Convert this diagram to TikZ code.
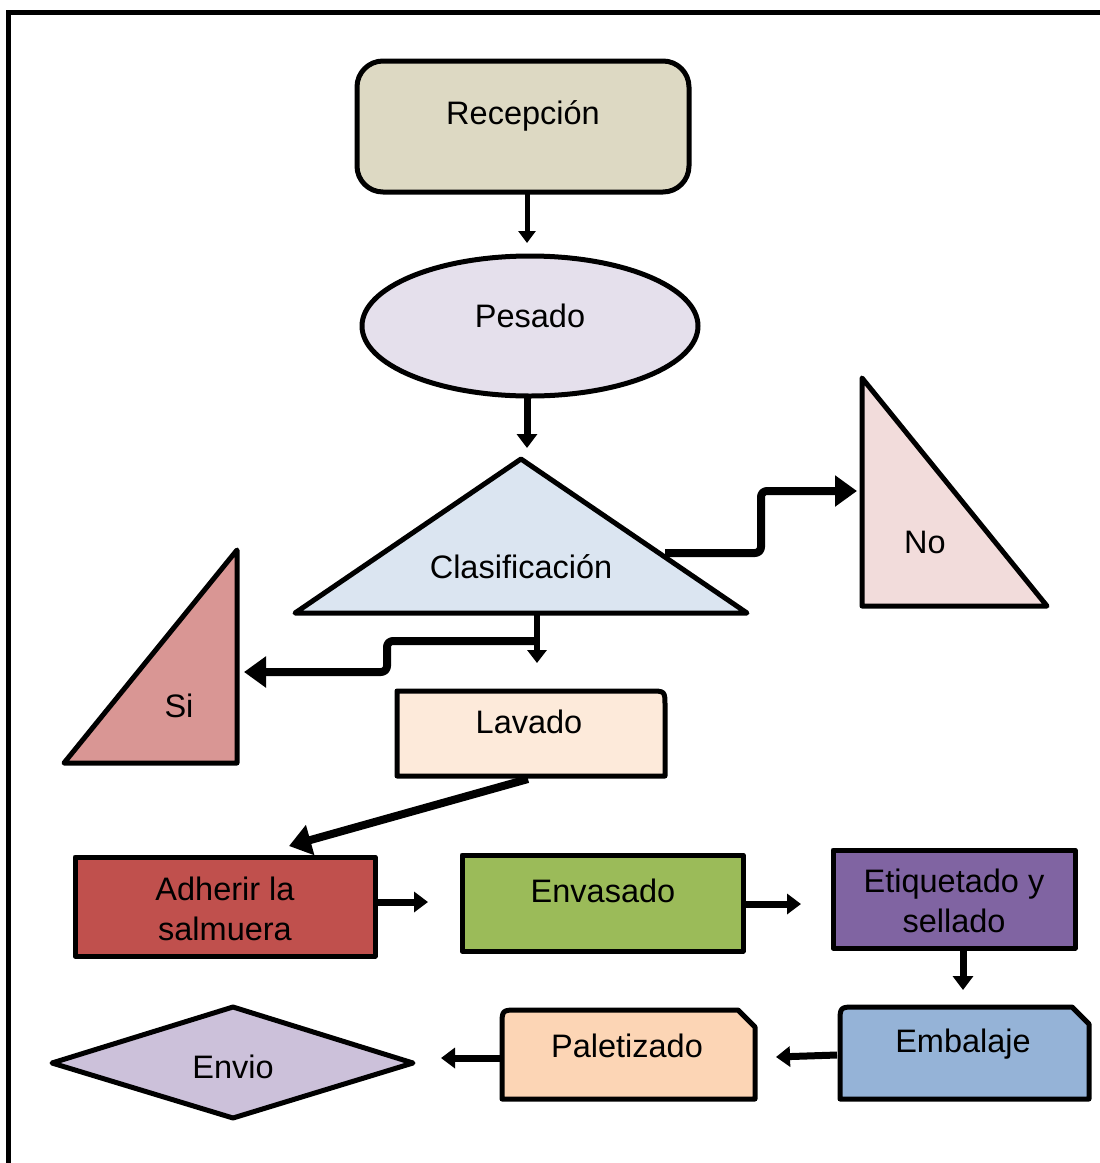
\documentclass[tikz,border=0pt]{standalone}
\usepackage{fontspec}
\setmainfont{Liberation Sans}
\usetikzlibrary{arrows.meta,shapes.geometric}

\definecolor{cRecep}{HTML}{DDD9C3}
\definecolor{cPesado}{HTML}{E5E0EC}
\definecolor{cClasif}{HTML}{DBE5F1}
\definecolor{cNo}{HTML}{F2DCDB}
\definecolor{cSi}{HTML}{D99694}
\definecolor{cLavado}{HTML}{FDEADA}
\definecolor{cAdherir}{HTML}{C0504D}
\definecolor{cEnvasado}{HTML}{9BBB59}
\definecolor{cEtiq}{HTML}{8064A2}
\definecolor{cEmbalaje}{HTML}{95B3D7}
\definecolor{cPalet}{HTML}{FCD5B5}
\definecolor{cEnvio}{HTML}{CCC1DA}

\tikzset{
  shapeline/.style={draw=black, line width=5pt, line join=round},
  label/.style={font=\fontsize{32.5}{39}\selectfont, align=center, inner sep=0pt},
  twoline/.style={font=\fontsize{32.5}{40}\selectfont},
  flowthin/.style={line width=5pt, -{Triangle[length=12pt,width=17pt]}},
  flowmid/.style={line width=7pt, -{Triangle[length=14pt,width=20pt]}},
  flowthick/.style={line width=8pt, rounded corners=6pt, line join=round,
                    -{Triangle[length=22pt,width=30pt]}},
}

\begin{document}
\begin{tikzpicture}[x=1pt,y=-1pt]
\useasboundingbox (0,0) rectangle (1100,1163);
\fill[white] (0,0) rectangle (1100,1163);

% outer frame (open to the right and bottom)
\draw[line width=5pt] (1110,12) -- (8,12) -- (8,1175);

% Recepcion
\draw[shapeline, fill=cRecep, rounded corners=26pt] (357,61) rectangle (689,192);
\node[label] (recep) at (523,116) {Recepción};
\coordinate (recepS) at (527,192);

% Pesado
\draw[shapeline, fill=cPesado] (530,326) ellipse [x radius=168, y radius=70];
\node[label] (pesado) at (530,316) {Pesado};
\coordinate (pesadoN) at (527,243);
\coordinate (pesadoS) at (527,396);

% Clasificacion
\draw[shapeline, fill=cClasif] (521,459) -- (747,613) -- (295,613) -- cycle;
\node[label] (clasif) at (521,567) {Clasificación};
\coordinate (clasifN) at (527,448);
\coordinate (clasifR) at (665,553);
\coordinate (clasifB) at (537,613);
\coordinate (clasifSplit) at (537,641);

% No
\draw[shapeline, fill=cNo] (862,378) -- (1047,606) -- (862,606) -- cycle;
\node[label] (no) at (925,542) {No};
\coordinate (noL) at (857,491);

% Si
\draw[shapeline, fill=cSi] (237,550) -- (237,763) -- (64,763) -- cycle;
\node[label] (si) at (179,706) {Si};
\coordinate (siR) at (244,672);

% Lavado (one rounded corner)
\draw[shapeline, fill=cLavado] (397,776) -- (397,691) -- (650,691)
  .. controls (665,691) .. (665,706) -- (665,776) -- cycle;
\node[label] (lavado) at (529,722) {Lavado};
\coordinate (lavadoN) at (537,663);
\coordinate (lavadoS) at (528,779);

% Adherir la salmuera
\draw[shapeline, fill=cAdherir] (75,857) rectangle (375,956);
\node[label, twoline] (adherir) at (225,909) {Adherir la\\salmuera};
\coordinate (adherirN) at (289,846);
\coordinate (adherirR) at (375,902);

% Envasado
\draw[shapeline, fill=cEnvasado] (462,855) rectangle (743,951);
\node[label] (envasado) at (603,891) {Envasado};
\coordinate (envasadoL) at (428,902);
\coordinate (envasadoR) at (743,904);

% Etiquetado y sellado
\draw[shapeline, fill=cEtiq] (833,850) rectangle (1075,948);
\node[label, twoline] (etiq) at (954,901) {Etiquetado y\\sellado};
\coordinate (etiqL) at (801,904);
\coordinate (etiqS) at (963,948);

% Embalaje (rounded top-left, clipped top-right)
\draw[shapeline, fill=cEmbalaje] (840,1099) -- (840,1023)
  .. controls (840,1007) .. (856,1007) -- (1072,1007) -- (1089,1024) -- (1089,1099) -- cycle;
\node[label] (embalaje) at (963,1044) {Embalaje};
\coordinate (embalajeN) at (963,990);
\coordinate (embalajeL) at (837,1055);

% Paletizado (rounded top-left, clipped top-right)
\draw[shapeline, fill=cPalet] (502,1099) -- (502,1026)
  .. controls (502,1010) .. (518,1010) -- (738,1010) -- (755,1027) -- (755,1099) -- cycle;
\node[label] (palet) at (627,1046) {Paletizado};
\coordinate (paletR) at (776,1057);
\coordinate (paletL) at (502,1058);

% Envio
\draw[shapeline, fill=cEnvio] (52,1063) -- (233,1007) -- (413,1063) -- (233,1118) -- cycle;
\node[label] (envio) at (233,1067) {Envio};
\coordinate (envioR) at (441,1058);

% connectors
\draw[flowthin] (recepS) -- (pesadoN);
\draw[flowmid] (pesadoS) -- (clasifN);
\draw[flowthick] (clasifR) -- (761,553) -- (761,491) -- (noL);
\draw[line width=6pt, -{Triangle[length=13pt,width=19pt]}] (clasifB) -- (lavadoN);
\draw[flowthick] (clasifSplit) -- (387,641) -- (387,672) -- (siR);
\draw[flowthick, rounded corners=0pt] (lavadoS) -- (adherirN);
\draw[flowmid] (adherirR) -- (envasadoL);
\draw[flowmid] (envasadoR) -- (etiqL);
\draw[flowmid] (etiqS) -- (embalajeN);
\draw[flowmid] (embalajeL) -- (paletR);
\draw[flowmid] (paletL) -- (envioR);
\end{tikzpicture}
\end{document}
